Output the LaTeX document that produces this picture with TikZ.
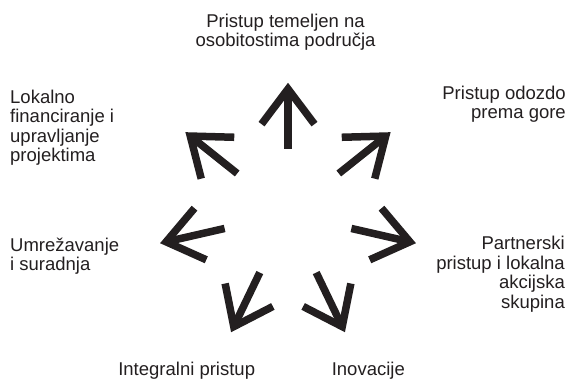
\documentclass[tikz,border=0pt]{standalone}
\usepackage{fontspec}
\setmainfont{Liberation Sans}
\usetikzlibrary{calc}
\definecolor{ink}{RGB}{35,31,32}
\begin{document}
\begin{tikzpicture}[x=1pt,y=-1pt,
  arr/.style={line width=7.5pt, draw=ink, line join=miter, miter limit=10},
  lbl/.style={font=\fontsize{18.5}{19.5}\selectfont, inner sep=0pt, text=ink}]
\useasboundingbox[fill=white] (0,0) rectangle (569,379);
\coordinate (c) at (288,214);
\foreach \k in {0,...,6}{
  \pgfmathsetmacro\a{-90+\k*360/7}
  \coordinate (tail\k) at ($(c)+(\a:65)$);
  \coordinate (tip\k) at ($(c)+(\a:125)$);
  \coordinate (wa\k) at ($(tip\k)+(\a+143:44)$);
  \coordinate (wb\k) at ($(tip\k)+(\a-143:44)$);
  \draw[arr] (tail\k) -- (tip\k);
  \draw[arr] (wa\k) -- (tip\k) -- (wb\k);
}
\node[lbl, align=center, anchor=base] (t0) at (285.5,46.7) {Pristup temeljen na\\osobitostima područja};
\node[lbl, align=right, anchor=base east] (t1) at (566,119) {Pristup odozdo\\prema gore};
\node[lbl, align=right, anchor=base east] (t2) at (565,308.3) {Partnerski\\pristup i lokalna\\akcijska\\skupina};
\node[lbl, anchor=base] (t3) at (368.3,375) {Inovacije};
\node[lbl, anchor=base] (t4) at (186.7,375) {Integralni pristup};
\node[lbl, align=left, anchor=base west] (t5) at (10,270.7) {Umrežavanje\\i suradnja};
\node[lbl, align=left, anchor=base west] (t6) at (10,161.7) {Lokalno\\financiranje i\\upravljanje\\projektima};
\end{tikzpicture}
\end{document}
